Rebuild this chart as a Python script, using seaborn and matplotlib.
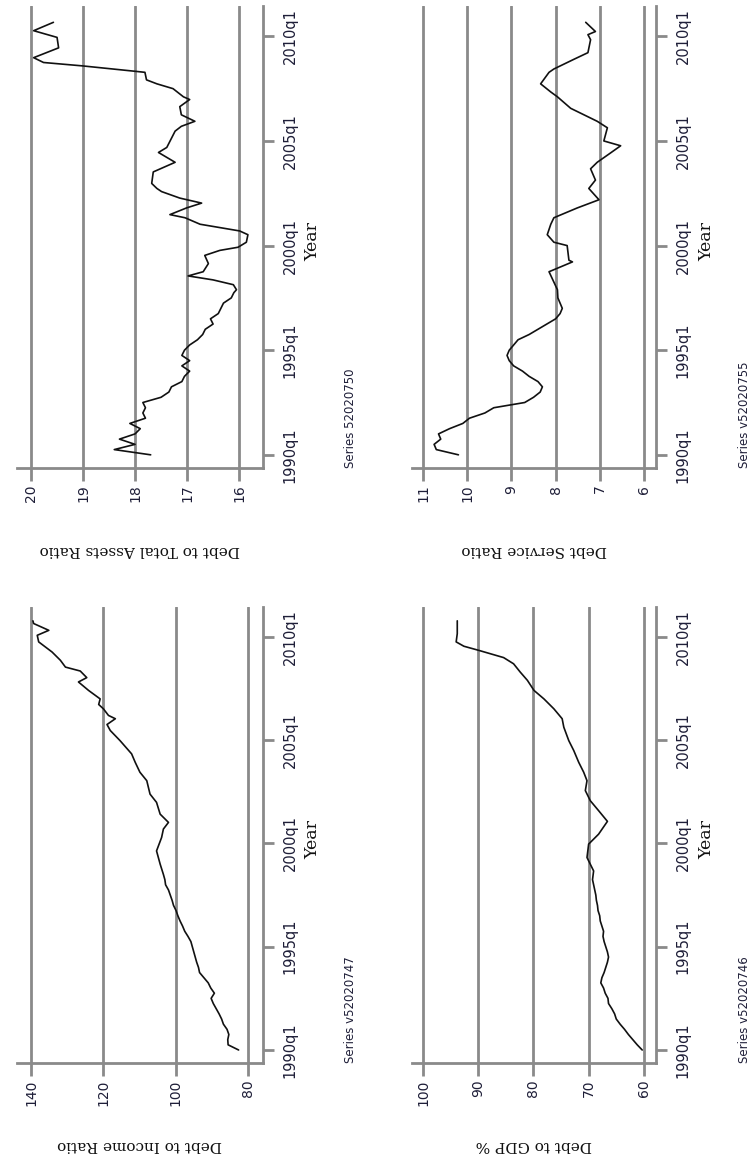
import matplotlib
matplotlib.use("Agg")
import matplotlib.pyplot as plt
import pandas as pd
import seaborn as sns

sns.set_theme(style="white")
plt.rcParams["font.family"] = ["DejaVu Sans"]

# ---- quarterly household debt indicators (decimal year, value) ----
assets_t = [1990.0, 1990.25, 1990.5, 1990.75, 1991.0, 1991.25, 1991.5, 1991.75, 1992.0, 1992.25,
            1992.5, 1992.75, 1993.0, 1993.25, 1993.5, 1993.75, 1994.0, 1994.25, 1994.5, 1994.75,
            1995.0, 1995.25, 1995.5, 1995.75, 1996.0, 1996.25, 1996.5, 1996.75, 1997.0, 1997.25,
            1997.5, 1997.75, 1997.89, 1998.13, 1998.36, 1998.55, 1998.75, 1999.14, 1999.53, 1999.77,
            1999.92, 2000.16, 2000.52, 2000.7, 2001.02, 2001.33, 2001.48, 2001.8, 2002.03, 2002.27,
            2002.58, 2002.73, 2002.97, 2003.52, 2003.98, 2004.45, 2004.69, 2005.47, 2005.7, 2005.94,
            2006.25, 2006.64, 2006.98, 2007.11, 2007.5, 2007.73, 2007.92, 2008.28, 2008.33, 2008.59,
            2008.75, 2008.98, 2009.45, 2009.95, 2010.27, 2010.67]
assets_v = [17.7, 18.4, 18.0, 18.3, 18.0, 17.9, 18.1, 17.8, 17.85, 17.8,
            17.85, 17.5, 17.35, 17.3, 17.1, 17.05, 16.95, 17.1, 16.95, 17.1,
            17.05, 16.95, 16.8, 16.7, 16.65, 16.5, 16.55, 16.4, 16.35, 16.3,
            16.15, 16.1, 16.05, 16.11, 16.5, 16.98, 16.69, 16.59, 16.66, 16.37,
            16.02, 15.86, 15.83, 15.99, 16.75, 17.04, 17.33, 17.01, 16.72, 17.14,
            17.49, 17.58, 17.68, 17.65, 17.23, 17.55, 17.39, 17.23, 17.11, 16.85,
            17.11, 17.14, 16.95, 17.07, 17.27, 17.58, 17.78, 17.81, 18.0, 19.02,
            19.76, 19.95, 19.47, 19.5, 19.95, 19.57]

service_t = [1990.0, 1990.25, 1990.5, 1990.75, 1991.0, 1991.25, 1991.5, 1991.75, 1992.0, 1992.25,
             1992.5, 1992.75, 1993.0, 1993.25, 1993.5, 1993.75, 1994.0, 1994.25, 1994.5, 1994.75,
             1995.0, 1995.25, 1995.5, 1995.75, 1996.0, 1996.25, 1996.5, 1996.75, 1997.0, 1997.25,
             1997.5, 1997.89, 1998.75, 1999.22, 1999.3, 2000.0, 2000.16, 2000.52, 2001.02, 2001.33,
             2001.8, 2002.19, 2002.73, 2003.13, 2003.67, 2003.98, 2004.38, 2004.77, 2005.0, 2005.63,
             2005.94, 2006.25, 2006.56, 2007.11, 2007.34, 2007.73, 2008.28, 2008.44, 2008.9, 2009.22,
             2009.84, 2010.08, 2010.23, 2010.67]
service_v = [10.2, 10.7, 10.75, 10.6, 10.65, 10.4, 10.1, 9.95, 9.6, 9.4,
             8.7, 8.5, 8.35, 8.3, 8.4, 8.6, 8.75, 8.95, 9.05, 9.1,
             9.05, 8.95, 8.85, 8.6, 8.4, 8.2, 8.0, 7.9, 7.85, 7.9,
             7.95, 7.96, 8.15, 7.62, 7.70, 7.74, 8.04, 8.19, 8.11, 8.04,
             7.51, 7.02, 7.25, 7.10, 7.21, 7.06, 6.79, 6.53, 6.91, 6.83,
             7.06, 7.36, 7.66, 7.96, 8.11, 8.34, 8.15, 8.04, 7.59, 7.27,
             7.21, 7.27, 7.10, 7.32]

income_t = [1990.0, 1990.25, 1990.5, 1990.75, 1991.0, 1991.25, 1991.5, 1991.75, 1992.0, 1992.25,
            1992.5, 1992.75, 1993.0, 1993.25, 1993.5, 1993.75, 1994.0, 1994.25, 1994.5, 1994.75,
            1995.0, 1995.25, 1995.5, 1995.75, 1996.0, 1996.25, 1996.5, 1996.75, 1997.0, 1997.25,
            1997.5, 1997.75, 1998.0, 1998.25, 1998.5, 1999.0, 1999.64, 2000.29, 2000.7, 2001.02,
            2001.42, 2001.99, 2002.39, 2003.04, 2003.45, 2003.93, 2004.34, 2004.98, 2005.47, 2005.76,
            2006.04, 2006.2, 2006.52, 2006.73, 2007.0, 2007.41, 2007.82, 2008.03, 2008.35, 2008.54,
            2008.87, 2009.27, 2009.76, 2010.08, 2010.32, 2010.65, 2010.78]
income_v = [82.6, 85.5, 85.6, 85.3, 85.8, 86.8, 87.3, 88.0, 88.8, 89.6,
            90.2, 89.3, 90.3, 91.0, 92.2, 93.4, 93.7, 94.2, 94.6, 95.0,
            95.4, 95.8, 96.6, 97.5, 98.1, 98.8, 99.4, 99.9, 100.6, 101.0,
            101.5, 102.0, 102.8, 103.0, 103.4, 104.3, 105.3, 103.9, 103.4, 102.0,
            104.3, 105.3, 107.1, 108.0, 109.9, 111.2, 112.2, 115.4, 118.1, 119.0,
            116.7, 118.6, 120.0, 121.3, 120.9, 124.1, 126.9, 124.6, 126.4, 130.5,
            131.9, 134.2, 137.9, 138.3, 135.1, 139.3, 139.5]

gdp_t = [1990.0, 1990.25, 1990.5, 1990.75, 1991.0, 1991.25, 1991.5, 1991.75, 1992.0, 1992.25,
         1992.5, 1992.75, 1993.0, 1993.25, 1993.5, 1993.75, 1994.0, 1994.25, 1994.5, 1994.75,
         1995.0, 1995.25, 1995.5, 1995.75, 1996.0, 1996.25, 1996.5, 1996.75, 1997.0, 1997.25,
         1997.5, 1997.75, 1998.0, 1998.25, 1998.67, 1999.32, 1999.97, 2000.45, 2001.07, 2001.59,
         2002.07, 2002.56, 2003.04, 2003.45, 2003.93, 2004.5, 2004.98, 2005.63, 2006.04, 2006.52,
         2007.0, 2007.41, 2007.9, 2008.3, 2008.7, 2009.0, 2009.35, 2009.55, 2009.76, 2010.16,
         2010.78]
gdp_v = [60.3, 61.2, 62.0, 62.8, 63.5, 64.3, 65.0, 65.3, 65.8, 66.4,
         66.5, 67.0, 67.3, 67.8, 67.6, 67.2, 66.9, 66.6, 66.4, 66.6,
         66.9, 67.2, 67.4, 67.3, 67.6, 67.9, 68.0, 68.3, 68.4, 68.6,
         68.7, 68.9, 69.1, 69.3, 69.1, 70.3, 70.0, 68.2, 66.6, 68.2,
         69.7, 70.6, 70.3, 70.9, 71.8, 72.7, 73.6, 74.5, 74.8, 76.3,
         78.1, 79.9, 81.1, 82.4, 83.6, 85.4, 89.9, 92.6, 94.0, 93.8,
         93.8]

year_ticks = [1990, 1995, 2000, 2005, 2010]
year_labels = ["1990q1", "1995q1", "2000q1", "2005q1", "2010q1"]

TLIM = (1989.37, 2011.45)
panels = [
    dict(t=assets_t, v=assets_v, title="Debt to Total Assets Ratio", note="Series 52020750",
         ticks=[20, 19, 18, 17, 16], vlim=(20.27, 15.54), box=(17, 263, 6, 468),
         note_x=350, year_x=313),
    dict(t=service_t, v=service_v, title="Debt Service Ratio", note="Series v52020755",
         ticks=[11, 10, 9, 8, 7, 6], vlim=(11.25, 5.73), box=(412, 656, 6, 468),
         note_x=744, year_x=707),
    dict(t=income_t, v=income_v, title="Debt to Income Ratio", note="Series v52020747",
         ticks=[140, 120, 100, 80], vlim=(143.9, 75.85), box=(17, 263, 607, 1063),
         note_x=350, year_x=313),
    dict(t=gdp_t, v=gdp_v, title="Debt to GDP %", note="Series v52020746",
         ticks=[100, 90, 80, 70, 60], vlim=(102.0, 57.8), box=(412, 656, 607, 1063),
         note_x=744, year_x=707),
]

W, H = 754, 1165
GRID = "#8a8a8a"
INK = "#1e1e38"

fig = plt.figure(figsize=(W / 100, H / 100), dpi=100)

for p in panels:
    x0, x1, y0, y1 = p["box"]
    w, h = x1 - x0, y1 - y0
    ax = fig.add_axes([x0 / W, 1 - y1 / H, w / W, h / H])
    df = pd.DataFrame({"quarter": p["t"], "value": p["v"]})
    sns.lineplot(data=df, x="value", y="quarter", orient="y", sort=False,
                 estimator=None, color="#111111", linewidth=1.2, ax=ax)

    ax.set_xlim(*p["vlim"])
    ax.set_ylim(*TLIM)

    ax.set_xticks(p["ticks"])
    ax.set_xticklabels([str(k) for k in p["ticks"]], rotation=90, color=INK, fontsize=10)
    ax.set_yticks(year_ticks)
    ax.yaxis.tick_right()
    ax.set_yticklabels(year_labels, rotation=90, va="center", color=INK, fontsize=10.5)

    ax.grid(False)
    ax.xaxis.grid(True, color=GRID, linewidth=2)
    for side in ("left", "top"):
        ax.spines[side].set_visible(False)
    for side in ("right", "bottom"):
        ax.spines[side].set_visible(True)
        ax.spines[side].set_color(GRID)
        ax.spines[side].set_linewidth(2)
    ax.tick_params(axis="x", length=9, width=2, color=GRID, pad=3, bottom=True)
    ax.tick_params(axis="y", length=8, width=2, color=GRID, pad=6, right=True, left=False)

    ax.set_xlabel(p["title"], rotation=180, fontfamily="DejaVu Serif", fontsize=11,
                  color="#111111", va="center", ha="center")
    ax.xaxis.set_label_coords(0.5, -82 / h)
    ax.yaxis.set_label_position("right")
    ax.set_ylabel("Year", rotation=90, fontfamily="DejaVu Serif", fontsize=12.5,
                  color="#111111", va="center", ha="center")
    ax.yaxis.set_label_coords((p["year_x"] - x0) / w, 0.49)
    ax.text((p["note_x"] - x0) / w, 0.0, p["note"], rotation=90,
            ha="center", va="bottom", fontsize=8.5, color=INK, transform=ax.transAxes)

fig.savefig("out.png", dpi=100, facecolor="white")
